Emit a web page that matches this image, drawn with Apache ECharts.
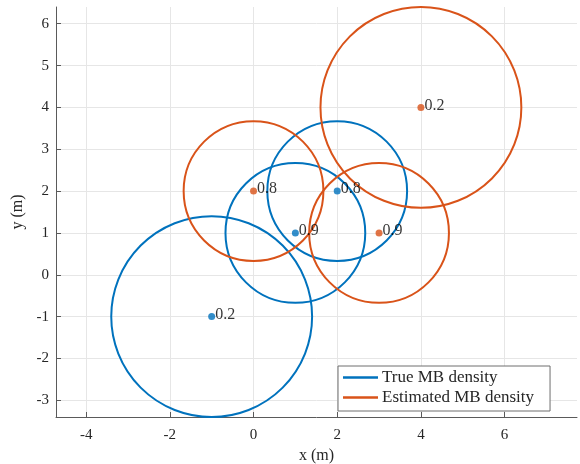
<!DOCTYPE html>
<html>
<head>
<meta charset="utf-8">
<script src="https://cdn.jsdelivr.net/npm/echarts@6/dist/echarts.min.js"></script>
<style>html,body{margin:0;padding:0;background:#fff}#c{width:580px;height:464px}</style>
</head>
<body>
<div id="c"></div>
<script>
// True MB density components
const trueX = [-1, 1, 2];
const trueY = [-1, 1, 2];
const trueR = [2.4, 1.67, 1.67];
const trueW = ['0.2', '0.9', '0.8'];
// Estimated MB density components
const estX = [0, 3, 4];
const estY = [2, 1, 4];
const estR = [1.67, 1.67, 2.4];
const estW = ['0.8', '0.9', '0.2'];

const seriesNames = ['True MB density', 'Estimated MB density'];
const BLUE = '#0072BD', ORANGE = '#D95319';
const FONT = 'Liberation Serif';

function circleData(xs, ys, rs) { return xs.map((x, i) => [x, ys[i], rs[i]]); }
function dotData(xs, ys, ws) { return xs.map((x, i) => [x, ys[i], ws[i]]); }

function circleSeries(name, color, data) {
  return {
    type: 'custom', name: name, data: data,
    itemStyle: { color: color },
    encode: { x: 0, y: 1 },
    renderItem: function (params, api) {
      const c = api.coord([api.value(0), api.value(1)]);
      const s = api.size([api.value(2), api.value(2)]);
      return {
        type: 'circle',
        shape: { cx: c[0], cy: c[1], r: s[0] },
        style: { fill: 'none', stroke: color, lineWidth: 2 }
      };
    },
    clip: false, silent: true
  };
}
function dotSeries(name, color, data) {
  return {
    type: 'scatter', name: name, data: data,
    symbolSize: 7, itemStyle: { color: color },
    label: { show: true, position: 'right', distance: 0, offset: [0, -2],
      formatter: p => p.value[2], color: '#000', fontFamily: FONT, fontSize: 16 },
    silent: true, z: 5
  };
}

const axisCommon = {
  type: 'value',
  axisLine: { show: true, onZero: false, lineStyle: { color: '#5a5a5a', width: 1 } },
  axisTick: { show: true, inside: true, length: 5, lineStyle: { color: '#5a5a5a' } },
  splitLine: { show: true, showMinLine: false, showMaxLine: false, lineStyle: { color: '#e6e6e6', width: 1 } },
  axisLabel: { color: '#262626', fontFamily: FONT, fontSize: 15, showMinLabel: false, showMaxLabel: false },
  nameLocation: 'middle',
  nameTextStyle: { color: '#262626', fontFamily: FONT, fontSize: 16 }
};

const chart = echarts.init(document.getElementById('c'), null, { renderer: 'canvas' });
chart.setOption({
  animation: false,
  backgroundColor: '#fff',
  grid: { left: 56, right: 3, top: 7, bottom: 47, containLabel: false, outerBoundsMode: 'none' },
  xAxis: Object.assign({}, axisCommon, {
    min: -4.72, max: 7.73, minInterval: 2, maxInterval: 2,
    name: 'x (m)', nameGap: 26,
    axisLabel: Object.assign({}, axisCommon.axisLabel, { margin: 11 })
  }),
  yAxis: Object.assign({}, axisCommon, {
    min: -3.4, max: 6.4, minInterval: 1, maxInterval: 1,
    name: 'y (m)', nameGap: 23,
    axisLabel: Object.assign({}, axisCommon.axisLabel, { margin: 7 })
  }),
  legend: {
    data: seriesNames, orient: 'vertical',
    left: 338, top: 366,
    icon: 'rect', itemWidth: 35, itemHeight: 2.5, itemGap: 3,
    padding: [3, 16, 5, 5],
    backgroundColor: '#fff', borderColor: '#6e6e6e', borderWidth: 1, borderRadius: 0,
    textStyle: { color: '#262626', fontFamily: FONT, fontSize: 17, padding: [0, 0, 0, -1] }
  },
  series: [
    circleSeries(seriesNames[0], BLUE, circleData(trueX, trueY, trueR)),
    circleSeries(seriesNames[1], ORANGE, circleData(estX, estY, estR)),
    dotSeries('True components', BLUE, dotData(trueX, trueY, trueW)),
    dotSeries('Estimated components', ORANGE, dotData(estX, estY, estW))
  ]
});
</script>
</body>
</html>
